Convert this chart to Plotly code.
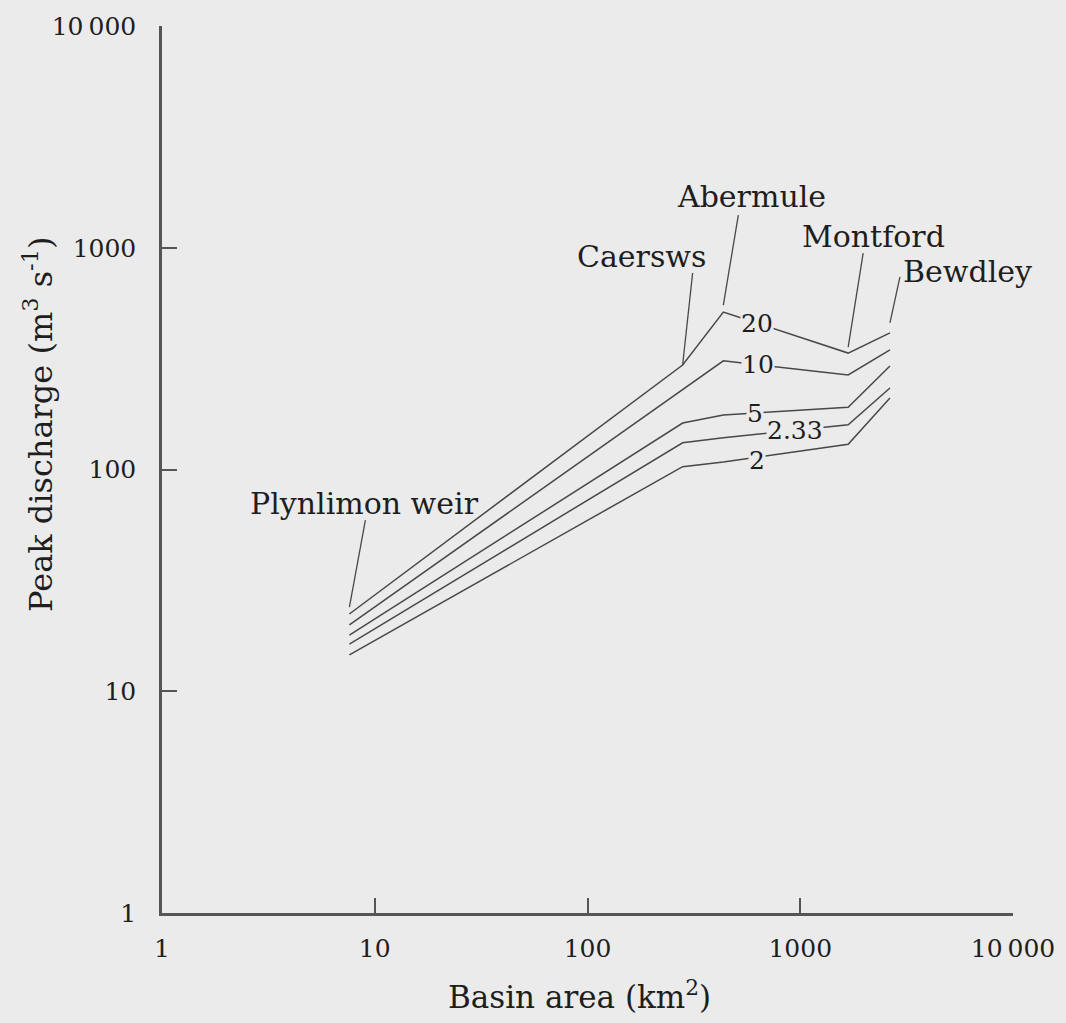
import numpy as np
import plotly.graph_objects as go

# ---- data ----
station_names = ["Plynlimon weir", "Caersws", "Abermule", "Montford", "Bewdley"]
basin_area = [7.6, 280, 435, 1680, 2640]          # km2
return_periods = ["20", "10", "5", "2.33", "2"]     # years
q20 = [22.3, 296, 513, 335, 413]
q10 = [19.9, 228, 309, 267, 346]
q5 = [17.9, 162, 176, 191, 293]
q233 = [16.3, 132, 139, 159, 233]
q2 = [14.6, 103, 108, 130, 210]
series = [q20, q10, q5, q233, q2]

x_tickvals = [1, 10, 100, 1000, 10000]
x_ticktext = ["1", "10", "100", "1000", "10\u2009000"]
y_tickvals = [1, 10, 100, 1000, 10000]
y_ticktext = ["1", "10", "100", "1000", "10\u2009000"]

# ---- styling / layout constants ----
BG = "#ebebeb"
LINE = "#484848"
AXIS = "#555555"
TXT = "#1e1e1e"
FONT = "DejaVu Serif"
W, H = 1066, 1023
ML, MR, MT, MB = 162, 53, 26, 110
PX_PER_DEC_X = (W - ML - MR) / 4.0
PX_PER_DEC_Y = (H - MT - MB) / 4.0

fig = go.Figure()
for name, q in zip(return_periods, series):
    fig.add_trace(go.Scatter(x=basin_area, y=q, mode="lines", name=name,
                             line=dict(color=LINE, width=1.5), showlegend=False,
                             hoverinfo="skip"))

annotations = []
# return-period labels on the curves (between Abermule and Montford)
label_logx = [2.797, 2.80, 2.787, 2.975, 2.797]
label_dy = [0, 0, 0, 0, -3]
lx_st = np.log10(basin_area)
for lab, q, lxv, dy in zip(return_periods, series, label_logx, label_dy):
    ly = np.interp(lxv, lx_st, np.log10(q))
    annotations.append(dict(x=lxv, y=ly, xref="x", yref="y", text=lab, showarrow=False,
                            font=dict(family=FONT, size=25, color=TXT),
                            bgcolor=BG, borderpad=0, yshift=dy))

# station labels with leader lines, anchored on the top (20-yr) curve
text_shift = [(15, 111), (-41, 108), (28, 116), (25, 117), (78, 61)]
leader_tail = [(16, 94), (10, 92), (15, 97), (15, 100), (10, 56)]   # px right, px up
leader_gap = [7, 0, 7, 6, 10]                                        # px above curve
for name, a, q, (xs, ys), (tx, ty), g in zip(station_names, basin_area, q20,
                                             text_shift, leader_tail, leader_gap):
    annotations.append(dict(x=np.log10(a), y=np.log10(q), xref="x", yref="y",
                            text=name, showarrow=False, xshift=xs, yshift=ys,
                            font=dict(family=FONT, size=30, color=TXT)))
    head = (a, q * 10 ** (g / PX_PER_DEC_Y))
    tail = (a * 10 ** (tx / PX_PER_DEC_X), q * 10 ** (ty / PX_PER_DEC_Y))
    fig.add_trace(go.Scatter(x=[tail[0], head[0]], y=[tail[1], head[1]], mode="lines",
                             line=dict(color=LINE, width=1.3), showlegend=False,
                             hoverinfo="skip"))

# axis titles
annotations.append(dict(x=-0.172, y=0.551, xref="paper", yref="paper",
                        text="Peak discharge (m<sup>3</sup> s<sup>-1</sup>)",
                        textangle=-90, showarrow=False,
                        font=dict(family=FONT, size=32, color=TXT)))
annotations.append(dict(x=0.491, y=-0.117, xref="paper", yref="paper",
                        text="Basin area (km<sup>2</sup>)", showarrow=False,
                        font=dict(family=FONT, size=31, color=TXT)))

axis_common = dict(type="log", range=[0, 4], showgrid=False, zeroline=False,
                   showline=True, linecolor=AXIS, linewidth=2.5,
                   ticks="inside", ticklen=15, tickwidth=2, tickcolor=AXIS,
                   tickmode="array", tickfont=dict(family=FONT, size=25, color=TXT))

fig.update_xaxes(**axis_common, tickvals=x_tickvals, ticktext=x_ticktext,
                 ticklabelstandoff=11)
fig.update_yaxes(**axis_common, tickvals=y_tickvals, ticktext=y_ticktext,
                 ticklabelstandoff=18)

fig.update_layout(width=W, height=H,
                  margin=dict(l=ML, r=MR, t=MT, b=MB),
                  paper_bgcolor=BG, plot_bgcolor=BG,
                  annotations=annotations, showlegend=False)

fig.write_html("out.html", config={"displayModeBar": False},
               post_script="document.body.style.margin='0';"
                           "document.body.style.background='%s';" % BG)
